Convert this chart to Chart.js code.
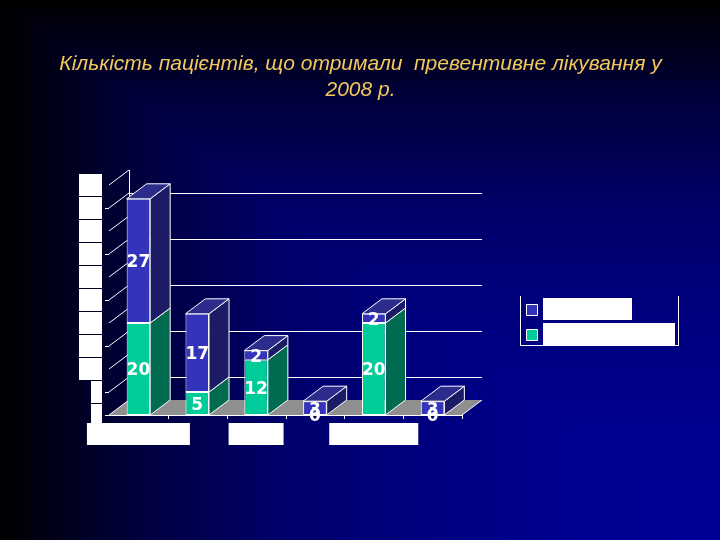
<!DOCTYPE html>
<html lang="uk">
<head>
  <meta charset="UTF-8">
  <title>Кількість пацієнтів</title>
  <script src="https://cdn.jsdelivr.net/npm/chart.js"></script>
  <style>
    html, body { margin: 0; padding: 0; width: 720px; height: 540px; overflow: hidden; }
    /* corner gradient: black along the top and left edges, blue in the bottom right */
    body {
      background:
        linear-gradient(to right, #000000 0%, #000040 20%, #00006c 40%, #000080 60%, #000090 80%, #000098 100%),
        linear-gradient(to bottom, #000000 0%, #000040 20%, #00006c 40%, #000080 60%, #000090 80%, #000098 100%);
      background-blend-mode: darken;
    }
    canvas { display: block; }
  </style>
</head>
<body>
  <canvas id="grafico" width="720" height="540"></canvas>

  <script>
    // category and series names are masked by white boxes in the picture, so they stay blank
    const categories = ['', '', '', '', '', ''];
    const greenValues = [20, 5, 12, 0, 20, 0];
    const blueValues = [27, 17, 2, 3, 2, 3];
    const yTicks = [0, 5, 10, 15, 20, 25, 30, 35, 40, 45, 50];
    const gridValues = [5, 15, 25, 35, 45];
    const titleLines = ['Кількість пацієнтів, що отримали  превентивне лікування у', '2008 р.'];

    const DX = 20, DY = 15;
    const WHITE = '#ffffff';

    function poly(ctx, pts, fill, stroke) {
      ctx.beginPath();
      pts.forEach((p, i) => i ? ctx.lineTo(p[0], p[1]) : ctx.moveTo(p[0], p[1]));
      ctx.closePath();
      if (fill) { ctx.fillStyle = fill; ctx.fill(); }
      if (stroke) { ctx.strokeStyle = stroke; ctx.lineWidth = 1; ctx.stroke(); }
    }

    function line(ctx, x1, y1, x2, y2) {
      ctx.beginPath();
      ctx.moveTo(x1, y1);
      ctx.lineTo(x2, y2);
      ctx.strokeStyle = WHITE;
      ctx.lineWidth = 1;
      ctx.stroke();
    }

    // back wall, floor and the depth of the bars, chart.js has no 3d bars
    const fakeDepth = {
      id: 'fakeDepth',
      beforeDatasetsDraw(chart) {
        const ctx = chart.ctx, y = chart.scales.y, x = chart.scales.x;
        const left = x.left, right = x.right, base = y.getPixelForValue(0);

        poly(ctx, [[left, base], [left + DX, base - DY], [right + DX, base - DY], [right, base]], '#8f8f8f');

        yTicks.forEach(v => line(ctx, left, y.getPixelForValue(v), left + DX, y.getPixelForValue(v) - DY));
        gridValues.forEach(v => {
          const py = Math.round(y.getPixelForValue(v) - DY) + 0.5;
          line(ctx, left + DX, py, right + DX, py);
          line(ctx, left - 4, py + DY, left, py + DY);
        });
        line(ctx, left + DX + 0.5, y.getPixelForValue(50) - DY, left + DX + 0.5, base - DY);

        line(ctx, left - 4, base + 0.5, right, base + 0.5);
        categories.forEach((c, i) => {
          const px = Math.round(left + (i + 1) * (right - left) / categories.length) + 0.5;
          line(ctx, px, base, px, base + 4);
        });
        line(ctx, right, base, right + DX, base - DY);

        const sides = ['#006b50', '#1c1c66'];
        chart.data.datasets.forEach((ds, d) => {
          chart.getDatasetMeta(d).data.forEach(bar => {
            const r = bar.x + bar.width / 2;
            if (bar.base - bar.y > 0.5) {
              poly(ctx, [[r, bar.y], [r + DX, bar.y - DY], [r + DX, bar.base - DY], [r, bar.base]], sides[d], WHITE);
            }
            if (d === 1) {
              const l = bar.x - bar.width / 2;
              poly(ctx, [[l, bar.y], [l + DX, bar.y - DY], [r + DX, bar.y - DY], [r, bar.y]], '#2c2c8c', WHITE);
            }
          });
        });
      },
      afterDatasetsDraw(chart) {
        const ctx = chart.ctx, y = chart.scales.y, x = chart.scales.x;

        // title, drawn here so it centres on the page and not on the plot
        ctx.font = 'italic 21px "Liberation Sans"';
        ctx.textAlign = 'center';
        ctx.textBaseline = 'middle';
        ctx.fillStyle = '#f2c85c';
        titleLines.forEach((t, i) => ctx.fillText(t, 360.5, 64 + i * 26));

        // value labels
        ctx.font = 'bold 17px "DejaVu Sans"';
        ctx.fillStyle = WHITE;
        [1, 0].forEach(d => {
          chart.getDatasetMeta(d).data.forEach((bar, i) => {
            const v = chart.data.datasets[d].data[i];
            ctx.fillText(String(v), bar.x, (bar.y + bar.base) / 2 + 2);
          });
        });

        // white boxes that hide the axis labels
        ctx.fillStyle = WHITE;
        yTicks.forEach(v => {
          const py = y.getPixelForValue(v);
          const w = v < 10 ? 11 : 23;
          ctx.fillRect(102 - w, py - 11, w, 22);
        });
        [[0, 103], [2, 55], [4, 89]].forEach(m => {
          const px = x.getPixelForValue(m[0]);
          ctx.fillRect(px - m[1] / 2, 423, m[1], 22);
        });

        // legend, its names are hidden too
        line(ctx, 520.5, 296, 520.5, 345.5);
        line(ctx, 520, 345.5, 679, 345.5);
        line(ctx, 678.5, 296, 678.5, 345.5);
        ctx.fillStyle = WHITE;
        ctx.fillRect(543, 298, 89, 22);
        ctx.fillRect(543, 323, 132, 23);
        poly(ctx, [[526.5, 304.5], [537.5, 304.5], [537.5, 315.5], [526.5, 315.5]], chart.data.datasets[1].backgroundColor, WHITE);
        poly(ctx, [[526.5, 329.5], [537.5, 329.5], [537.5, 340.5], [526.5, 340.5]], chart.data.datasets[0].backgroundColor, WHITE);
      }
    };

    new Chart(document.getElementById('grafico').getContext('2d'), {
      type: 'bar',
      data: {
        labels: categories,
        datasets: [
          { data: greenValues, backgroundColor: '#00cc99', borderColor: WHITE, borderWidth: 1, borderSkipped: false },
          { data: blueValues, backgroundColor: '#3333bb', borderColor: WHITE, borderWidth: 1, borderSkipped: false }
        ]
      },
      options: {
        responsive: false,
        animation: false,
        devicePixelRatio: 1,
        categoryPercentage: 1,
        barPercentage: 0.4,
        layout: { padding: { left: 109, right: 258, bottom: 125, top: 185 } },
        scales: {
          x: { stacked: true, display: false },
          y: { stacked: true, display: false, min: 0, max: 50 }
        },
        plugins: {
          legend: { display: false },
          tooltip: { enabled: false }
        }
      },
      plugins: [fakeDepth]
    });
  </script>
</body>
</html>
